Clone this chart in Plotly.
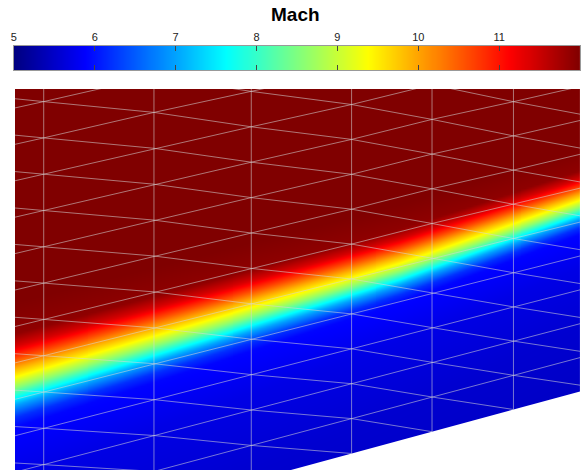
import numpy as np
import plotly.graph_objects as go

# ---------------- data ----------------
mach_min, mach_max = 5, 12
colorbar_ticks = [5, 6, 7, 8, 9, 10, 11, 12]

# structured triangular mesh: column x positions, wall height and node spacing per column
col_x = [-0.87, 0.29, 1.40, 2.38, 3.39, 4.20, 5.02, 5.84]
col_wall_y = [-0.985, -0.672, -0.373, -0.108, 0.165, 0.383, 0.605, 0.826]
col_spacing = [0.368, 0.363, 0.359, 0.354, 0.349, 0.347, 0.342, 0.338]
n_layers = 16

# oblique shock centre line (Mach ~ 9.4)
shock_x = [0.0, 1.88, 3.88, 5.69]
shock_y = [0.93, 1.48, 2.07, 2.70]
# Mach number across the shock vs. vertical distance below the shock centre line
profile_d = [-0.60, -0.35, -0.25, -0.15, -0.07, 0.0, 0.08, 0.15, 0.22, 0.32, 0.40, 0.80, 1.50, 2.50]
profile_mach = [12.0, 11.9, 11.4, 10.6, 9.9, 9.35, 8.6, 7.8, 7.0, 6.2, 5.9, 5.7, 5.55, 5.45]
# shock thickness scale along x
width_x = [0.0, 5.69]
width_scale = [1.25, 0.85]

# ---------------- build ----------------
jet = [[0.0, 'rgb(0,0,128)'], [0.125, 'rgb(0,0,255)'], [0.375, 'rgb(0,255,255)'],
       [0.625, 'rgb(255,255,0)'], [0.875, 'rgb(255,0,0)'], [1.0, 'rgb(128,0,0)']]

gx = np.linspace(-0.30, 6.00, 316)
gy = np.linspace(-0.30, 4.10, 221)
X, Y = np.meshgrid(gx, gy)
d = (np.interp(X, shock_x, shock_y) - Y) / np.interp(X, width_x, width_scale)
Z = np.interp(d, profile_d, profile_mach)

fig = go.Figure()
fig.add_trace(go.Heatmap(x=gx, y=gy, z=Z, zmin=mach_min, zmax=mach_max, colorscale=jet,
                         zsmooth='best', showscale=False, hoverinfo='skip'))

# white region below the wall
fig.add_trace(go.Scatter(x=list(col_x) + [col_x[-1], col_x[0]],
                         y=list(col_wall_y) + [-3, -3],
                         fill='toself', fillcolor='white', mode='lines',
                         line=dict(width=0, color='white'), hoverinfo='skip'))

# mesh edges
nodes = [[(col_x[i], col_wall_y[i] + m * col_spacing[i]) for m in range(n_layers + 1)]
         for i in range(len(col_x))]
lx, ly = [], []
for i in range(len(col_x)):
    lx += [nodes[i][0][0], nodes[i][-1][0], None]
    ly += [nodes[i][0][1], nodes[i][-1][1], None]
for m in range(1, n_layers + 1):
    for i in range(len(col_x)):
        lx.append(nodes[i][m][0]); ly.append(nodes[i][m][1])
    lx.append(None); ly.append(None)
for i in range(len(col_x) - 1):
    for m in range(1, n_layers + 1):
        lx += [nodes[i][m][0], nodes[i + 1][m - 1][0], None]
        ly += [nodes[i][m][1], nodes[i + 1][m - 1][1], None]
fig.add_trace(go.Scatter(x=lx, y=ly, mode='lines',
                         line=dict(color='rgba(215,215,215,0.55)', width=1),
                         hoverinfo='skip'))

# colour bar drawn as its own heatmap on a second axis pair
cb_vals = np.linspace(mach_min, mach_max, 281)
fig.add_trace(go.Heatmap(x=cb_vals, y=[0.5], z=[cb_vals], zmin=mach_min, zmax=mach_max,
                         colorscale=jet, zsmooth='best', showscale=False,
                         xaxis='x2', yaxis='y2', hoverinfo='skip'))

fig.update_layout(
    width=581, height=470, margin=dict(l=0, r=0, t=0, b=0), autosize=False,
    paper_bgcolor='white', plot_bgcolor='white', showlegend=False,
    xaxis=dict(domain=[12 / 581, 1], range=[0, 5.69], visible=False),
    yaxis=dict(domain=[0, 381 / 470], range=[0, 3.81], visible=False),
    xaxis2=dict(domain=[11 / 581, 1], range=[mach_min, mach_max], anchor='y2', side='top',
                tickvals=colorbar_ticks, ticks='inside', ticklen=5, tickcolor='#444',
                showline=True, linecolor='#999', linewidth=1, mirror='ticks',
                tickfont=dict(family='Liberation Sans', size=11, color='#222'),
                showgrid=False, zeroline=False),
    yaxis2=dict(domain=[1 - 70 / 470, 1 - 46 / 470], range=[0, 1], anchor='x2',
                showline=True, linecolor='#999', mirror=True, ticks='',
                showticklabels=False, showgrid=False, zeroline=False),
    annotations=[dict(text='<b>Mach</b>', xref='paper', yref='paper', x=295 / 581, y=1 - 14 / 470,
                      showarrow=False, xanchor='center', yanchor='middle',
                      font=dict(size=19, family='Liberation Sans', color='black'))],
)

fig.write_html('out.html', config={'displayModeBar': False, 'responsive': False},
               post_script="document.body.style.margin='0px';document.body.style.overflow='hidden';")
